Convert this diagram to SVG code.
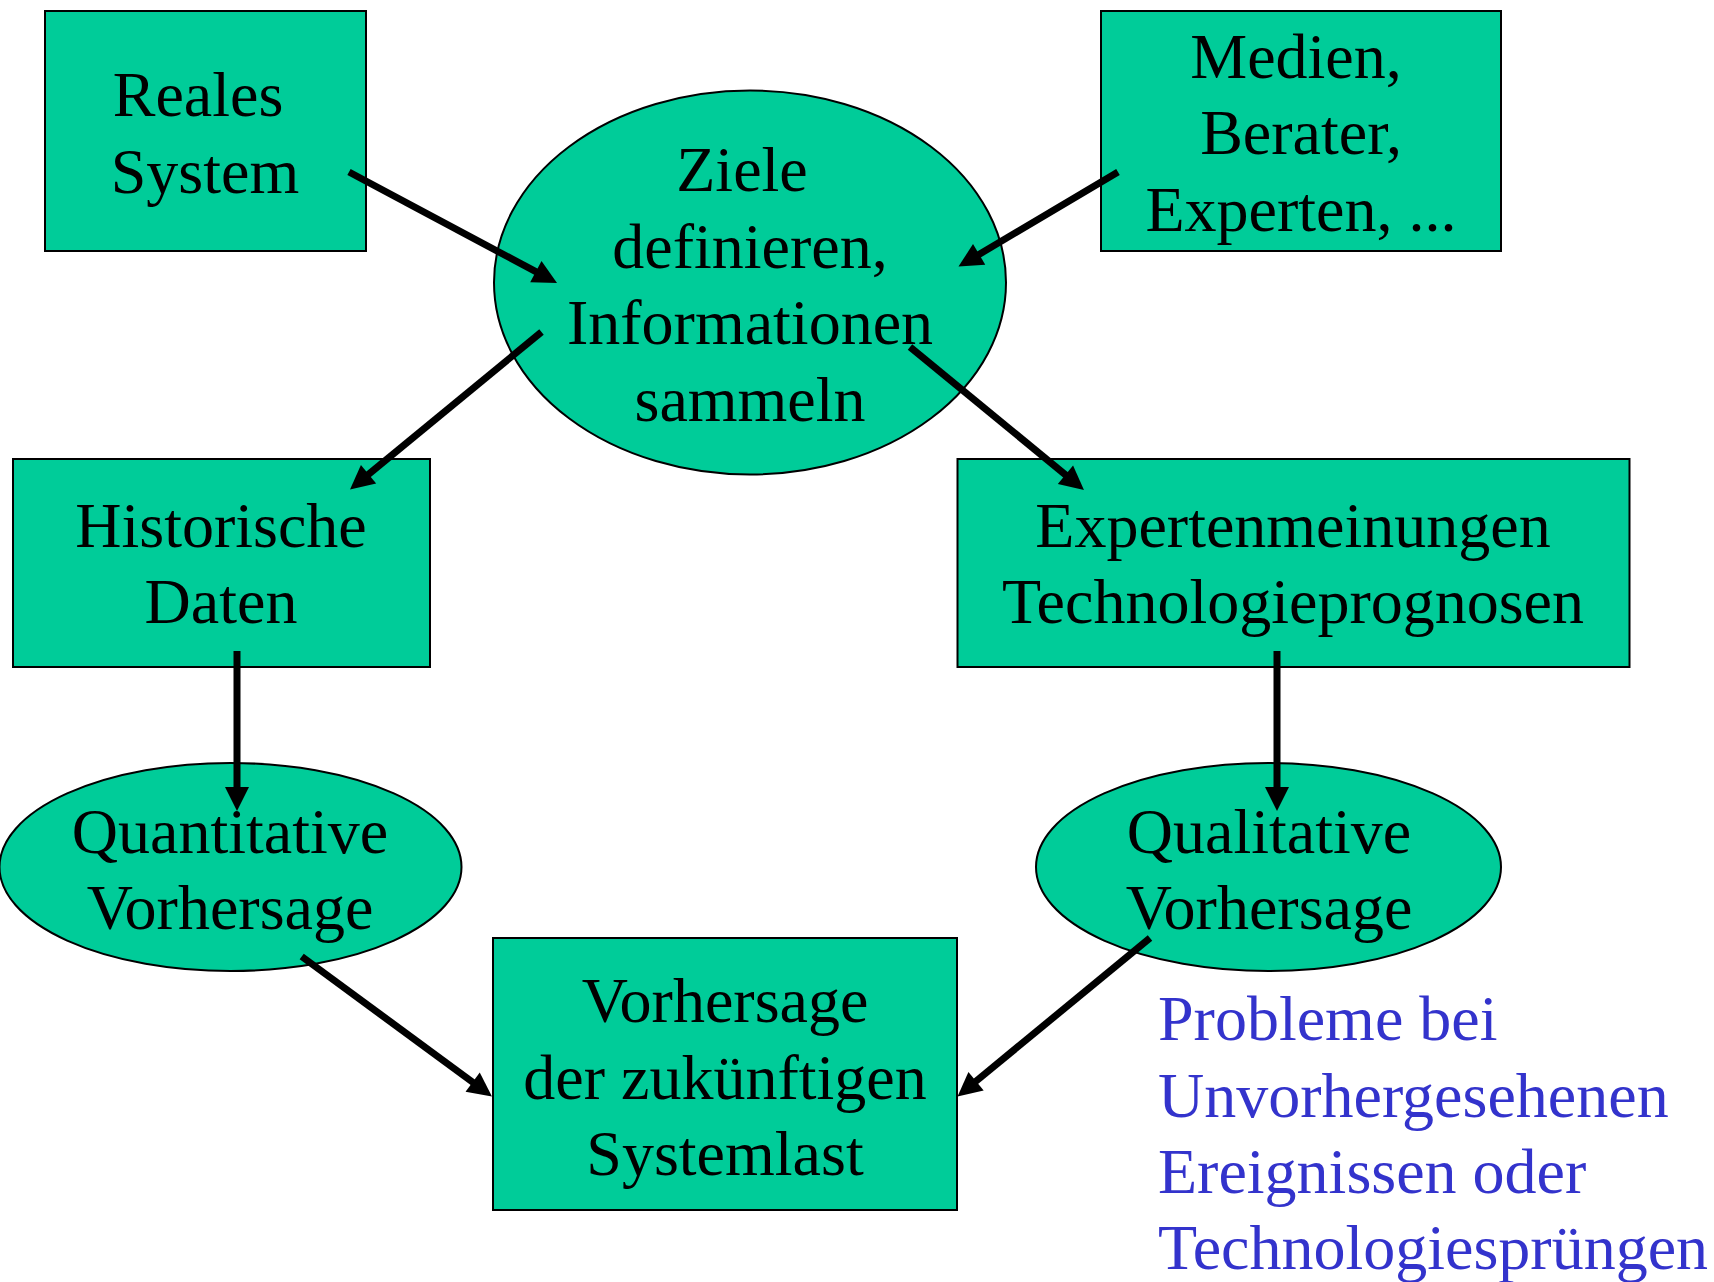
<svg xmlns="http://www.w3.org/2000/svg" width="1714" height="1282" viewBox="0 0 1714 1282">
<style>
.box{fill:#00CC99;stroke:#000;stroke-width:2}
.t{font-family:"Liberation Serif","Times New Roman",serif;font-size:64px;fill:#000;text-anchor:middle}
.note{font-family:"Liberation Serif","Times New Roman",serif;font-size:64px;fill:#3333CC}
.c{stroke:#000;stroke-width:7;fill:none;marker-end:url(#ah)}
</style>
<defs>
<marker id="ah" markerUnits="userSpaceOnUse" markerWidth="26" markerHeight="26" refX="9" refY="12" orient="auto" overflow="visible">
<path d="M0,0 L24,12 L0,24 z" fill="#000"/>
</marker>
</defs>
<rect width="1714" height="1282" fill="#fff"/>
<g id="reales">
<rect class="box" x="45" y="11" width="321" height="240"/>
<text class="t" x="198" y="116">Reales</text>
<text class="t" x="205" y="193">System</text>
</g>
<g id="medien">
<rect class="box" x="1101" y="11" width="400" height="240"/>
<text class="t" x="1296" y="78">Medien,</text>
<text class="t" x="1301" y="154">Berater,</text>
<text class="t" x="1301" y="231">Experten, ...</text>
</g>
<g id="ziele">
<ellipse class="box" cx="750" cy="282.5" rx="256" ry="192"/>
<text class="t" x="742" y="191">Ziele</text>
<text class="t" x="750" y="268">definieren,</text>
<text class="t" x="750" y="344">Informationen</text>
<text class="t" x="750" y="421">sammeln</text>
</g>
<g id="historische">
<rect class="box" x="13" y="459" width="417" height="208"/>
<text class="t" x="221" y="547">Historische</text>
<text class="t" x="221" y="623">Daten</text>
</g>
<g id="experten">
<rect class="box" x="957.5" y="459" width="672" height="208"/>
<text class="t" x="1293" y="547">Expertenmeinungen</text>
<text class="t" x="1293" y="623">Technologieprognosen</text>
</g>
<g id="quantitative">
<ellipse class="box" cx="230.5" cy="867" rx="231" ry="104"/>
<text class="t" x="230" y="853">Quantitative</text>
<text class="t" x="230" y="929">Vorhersage</text>
</g>
<g id="qualitative">
<ellipse class="box" cx="1268.5" cy="867" rx="232.5" ry="104"/>
<text class="t" x="1269" y="853">Qualitative</text>
<text class="t" x="1269" y="929">Vorhersage</text>
</g>
<g id="vorhersage">
<rect class="box" x="493" y="938" width="464" height="272"/>
<text class="t" x="725" y="1022">Vorhersage</text>
<text class="t" x="725" y="1099">der zukünftigen</text>
<text class="t" x="725" y="1175">Systemlast</text>
</g>
<g id="note">
<text class="note" x="1158" y="1040">Probleme bei</text>
<text class="note" x="1158" y="1117">Unvorhergesehenen</text>
<text class="note" x="1158" y="1193">Ereignissen oder</text>
<text class="note" x="1158" y="1269">Technologiesprüngen</text>
</g>
<g id="connectors">
<line class="c" x1="349" y1="172" x2="543.8" y2="275.9"/>
<line class="c" x1="1118" y1="172" x2="971.4" y2="258.9"/>
<line class="c" x1="541.5" y1="332" x2="361.6" y2="480"/>
<line class="c" x1="910" y1="347" x2="1072.4" y2="480.5"/>
<line class="c" x1="237" y1="651" x2="237" y2="796"/>
<line class="c" x1="1277" y1="651" x2="1277" y2="796"/>
<line class="c" x1="301.7" y1="956.5" x2="479.9" y2="1087.5"/>
<line class="c" x1="1150" y1="938" x2="969.1" y2="1086.9"/>
</g>
</svg>
